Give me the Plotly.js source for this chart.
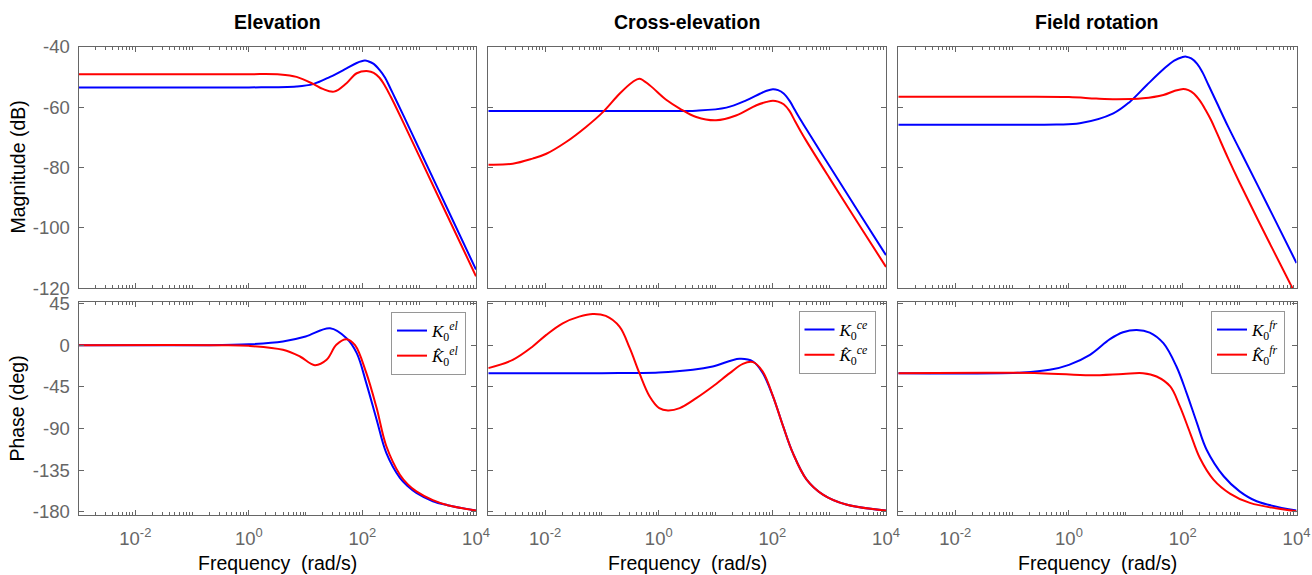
<!DOCTYPE html>
<html>
<head>
<meta charset="utf-8">
<script src="https://cdn.plot.ly/plotly-3.0.1.min.js"></script>
<style>html,body{margin:0;padding:0;background:#fff;}#chart{width:1312px;height:575px;}</style>
</head>
<body>
<div id="chart"></div>
<script>
// ---------------- data (frequency in rad/s) ----------------
const panelTitles = ["Elevation", "Cross-elevation", "Field rotation"];
const legendTags = ["el", "ce", "fr"];
const xTickVals = [0.01, 1, 100, 10000];
const xTickText = ["10<sup>-2</sup>", "10<sup>0</sup>", "10<sup>2</sup>", "10<sup>4</sup>"];
const magTickVals = [-40, -60, -80, -100, -120];
const phaseTickVals = [45, 0, -45, -90, -135, -180];

// Elevation magnitude
const elMagK_w    = [0.001, 0.1, 1, 6.92, 13.5, 26.9, 52.5, 79.4, 110, 126, 158, 200, 251, 316, 398, 631, 1000, 3162, 10000];
const elMagK      = [-53.4, -53.4, -53.4, -53.1, -52.3, -49.9, -47.1, -45.3, -44.5, -44.7, -45.6, -47.6, -50.2, -54, -57.9, -65.8, -73.8, -93.8, -113.8];
const elMagKh_w   = [0.001, 0.1, 1, 3.55, 6.92, 13.8, 20, 31.6, 52.5, 79.4, 126, 158, 200, 251, 316, 398, 631, 1000, 3162, 10000];
const elMagKh     = [-49.0, -49.0, -49.0, -49.1, -49.9, -52.3, -53.9, -54.8, -52, -48.7, -48, -48.6, -50.2, -53, -56.5, -60.3, -68.2, -76.2, -96.1, -116];
// Elevation phase
const elPhK_w     = [0.001, 0.138, 1, 3.98, 10, 26.9, 52.5, 79.4, 117, 178, 263, 457, 631, 891, 1738, 3162, 10000];
const elPhK       = [0, 0, 1, 4, 9.4, 18.3, 7.5, -8.6, -41, -80.6, -116.5, -143.5, -152.5, -159.7, -168.7, -173, -178.8];
const elPhKh_w    = [0.001, 0.3, 1, 3.98, 7.94, 14.5, 23.4, 34.7, 52.5, 74.1, 117, 178, 263, 457, 631, 891, 1738, 3162, 10000];
const elPhKh      = [0, 0, -0.7, -5, -12.2, -21.6, -15.8, 0.4, 6.5, 0, -30, -68, -109, -140, -150.5, -158, -167.6, -173, -178.8];

// Cross-elevation magnitude
const ceMagK_w    = [0.001, 0.1, 1, 4.57, 15.5, 34.7, 60.3, 79.4, 102, 126, 158, 200, 251, 316, 398, 1000, 3162, 10000];
const ceMagK      = [-61.2, -61.2, -61.2, -61.1, -60.1, -57.7, -55.5, -54.5, -54, -54.3, -55.4, -57.8, -61.0, -64.2, -67.3, -79.3, -94.2, -109];
const ceMagKh_w   = [0.001, 0.00269, 0.00603, 0.0105, 0.0234, 0.0525, 0.105, 0.204, 0.347, 0.457, 0.692, 1.35, 2.34, 4.57, 10.2, 22.9, 52.5, 79.4, 102, 126, 158, 200, 251, 316, 398, 1000, 3162, 10000];
const ceMagKh     = [-79, -78.7, -77, -75.4, -71.5, -66.5, -61.5, -55.5, -51.6, -50.5, -52.7, -57.5, -60.4, -63.2, -64.3, -62.7, -59.3, -58.2, -57.8, -58.1, -59.0, -61.2, -64.6, -68, -71.2, -83.3, -98.2, -112.9];
// Cross-elevation phase
const cePhK_w     = [0.001, 0.1, 1, 3.98, 8.91, 26.3, 45.7, 67.6, 102, 155, 229, 398, 776, 1995, 10000];
const cePhK       = [-30.2, -30.2, -29.5, -26.6, -23, -14.7, -17.6, -30, -55, -87.8, -116.5, -145, -161.5, -172.3, -178.8];
const cePhKh_w    = [0.001, 0.00269, 0.00603, 0.0105, 0.0204, 0.0398, 0.0692, 0.117, 0.204, 0.309, 0.457, 0.692, 1.02, 1.45, 2.34, 4.57, 8.91, 17.8, 30.2, 45.7, 67.6, 102, 155, 229, 398, 776, 1995, 10000];
const cePhKh      = [-24.8, -15.8, -1.4, 11.2, 23.7, 30.9, 33.8, 31.7, 20.1, -3.2, -30.2, -55.4, -68, -70.5, -68, -57.2, -44.6, -30.2, -20.1, -18.3, -28.4, -54.7, -87.8, -116.5, -145, -161.5, -172.3, -178.8];

// Field rotation magnitude
const frMagK_w    = [0.001, 0.1, 0.603, 1.55, 6.03, 11.7, 23.4, 45.7, 70.8, 100, 115, 141, 178, 224, 282, 398, 631, 1000, 3162, 10000];
const frMagK      = [-65.8, -65.8, -65.7, -65.3, -62, -58.2, -52.6, -47.4, -44.5, -43.3, -43.2, -43.8, -45.5, -48.5, -52.5, -58.5, -66.5, -74, -92.7, -111.6];
const frMagKh_w   = [0.001, 0.1, 1, 3.02, 6.92, 20, 45.7, 70.8, 102, 126, 158, 200, 251, 316, 398, 631, 1000, 3162, 10000];
const frMagKh     = [-56.5, -56.5, -56.6, -57.1, -57.3, -57.0, -55.9, -54.6, -53.9, -54.3, -55.5, -57.8, -60.8, -64.3, -68.5, -77, -85, -104, -122.6];
// Field rotation phase
const frPhK_w     = [0.001, 0.155, 0.457, 1, 2.34, 5.25, 8.91, 15.5, 26.3, 45.7, 77.6, 117, 178, 263, 525, 1000, 1995, 10000];
const frPhK       = [-30.2, -29.5, -26.6, -21.2, -10.4, 6.5, 14, 16.5, 13.7, 2.2, -23, -51.8, -84.2, -113, -141.7, -158, -168.7, -178.8];
const frPhKh_w    = [0.001, 0.3, 2.34, 8.91, 20, 34.7, 60.3, 89.1, 135, 200, 347, 676, 1514, 10000];
const frPhKh      = [-30.2, -30.2, -32.5, -31, -30.2, -33.8, -44.6, -66.2, -95, -122, -145.3, -160.4, -170.5, -179.5];

// ---------------- figure ----------------
const BLUE = "rgb(0,0,255)", RED = "rgb(255,0,0)";
const AX = "rgb(102,102,102)";
const W = 1312, H = 575;
const px = (v) => v / W, py = (v) => 1 - v / H;

const xDomains = [[px(78.5), px(476)], [px(488.3), px(886)], [px(898.3), px(1296.5)]];
const yTop = [py(288.3), py(47)];
const yBot = [py(515), py(302.3)];

function kName(tag, hat) {
  return (hat ? "<i>K&#770;</i>" : "<i>K</i>") + "<sub>0</sub><sup><i>" + tag + "</i></sup>";
}
function tr(w, v, color, xa, ya, name, legend, show) {
  return { x: w, y: v, type: "scatter", mode: "lines", xaxis: xa, yaxis: ya,
    line: { color: color, width: 2, shape: "spline", smoothing: 1 },
    name: name, legend: legend, showlegend: show, hoverinfo: "skip" };
}

const sets = [
  [elMagK_w, elMagK, elMagKh_w, elMagKh, elPhK_w, elPhK, elPhKh_w, elPhKh],
  [ceMagK_w, ceMagK, ceMagKh_w, ceMagKh, cePhK_w, cePhK, cePhKh_w, cePhKh],
  [frMagK_w, frMagK, frMagKh_w, frMagKh, frPhK_w, frPhK, frPhKh_w, frPhKh]
];

// minor tick positions (2..9 of every decade plus the unlabeled decades)
const minorVals = [];
for (let e = -3; e < 4; e++) {
  for (let m = 1; m <= 9; m++) {
    const v = m * Math.pow(10, e);
    if (m === 1 && xTickVals.indexOf(v) >= 0) continue;
    minorVals.push(v);
  }
}

const traces = [];
const layout = {
  width: W, height: H, margin: { l: 0, r: 0, t: 0, b: 0 },
  paper_bgcolor: "#fff", plot_bgcolor: "#fff",
  font: { family: "Liberation Sans, Arial, sans-serif", color: AX, size: 18.5 },
  annotations: [], showlegend: true
};

function baseX(i, showLabels, anchor) {
  return {
    type: "log", domain: xDomains[i], range: [-3, 4], anchor: anchor,
    showline: true, linecolor: AX, linewidth: 1, mirror: "allticks",
    ticks: "inside", ticklen: 5, tickcolor: AX, tickwidth: 1,
    tickmode: "array", tickvals: xTickVals, ticktext: xTickText,
    showticklabels: showLabels, ticklabelstandoff: 7,
    tickfont: { size: 18.5, color: AX },
    minor: { tickmode: "array", tickvals: minorVals, ticks: "inside", ticklen: 3, tickcolor: AX, tickwidth: 1, showgrid: false },
    showgrid: false, zeroline: false, fixedrange: true
  };
}
function baseY(dom, range, vals, showLabels, anchor) {
  return {
    domain: dom, range: range, anchor: anchor,
    showline: true, linecolor: AX, linewidth: 1, mirror: "allticks",
    ticks: "inside", ticklen: 5, tickcolor: AX, tickwidth: 1,
    tickmode: "array", tickvals: vals, ticktext: vals.map(String),
    showticklabels: showLabels, ticklabelstandoff: 4,
    tickfont: { size: 18.5, color: AX },
    showgrid: false, zeroline: false, fixedrange: true
  };
}

const legendBoxes = [
  { right: 466, top: 312 },
  { right: 875.5, top: 311 },
  { right: 1285, top: 311 }
];

for (let i = 0; i < 3; i++) {
  const ti = i * 2 + 1, bi = i * 2 + 2;
  const xT = "x" + ti, yT = "y" + ti, xB = "x" + bi, yB = "y" + bi;
  const s = sets[i];
  const leg = i === 0 ? "legend" : "legend" + (i + 1);
  traces.push(tr(s[0], s[1], BLUE, xT, yT, kName(legendTags[i], false), leg, false));
  traces.push(tr(s[2], s[3], RED, xT, yT, kName(legendTags[i], true), leg, false));
  traces.push(tr(s[4], s[5], BLUE, xB, yB, kName(legendTags[i], false), leg, true));
  traces.push(tr(s[6], s[7], RED, xB, yB, kName(legendTags[i], true), leg, true));

  layout["xaxis" + ti] = baseX(i, false, yT);
  layout["yaxis" + ti] = baseY(yTop, [-120, -40], magTickVals, i === 0, xT);
  layout["xaxis" + bi] = baseX(i, true, yB);
  layout["yaxis" + bi] = baseY(yBot, [-183.6, 46.4], phaseTickVals, i === 0, xB);

  layout[leg] = {
    x: px(legendBoxes[i].right), y: py(legendBoxes[i].top), xanchor: "right", yanchor: "top",
    bgcolor: "#fff", bordercolor: "rgb(150,150,150)", borderwidth: 1,
    font: { family: "Liberation Serif, Times New Roman, serif", size: 17, color: "#000" },
    tracegroupgap: 0, itemwidth: 30
  };

  const cx = (xDomains[i][0] + xDomains[i][1]) / 2;
  layout.annotations.push({
    text: "<b>" + panelTitles[i] + "</b>", xref: "paper", yref: "paper",
    x: cx, y: py(22), xanchor: "center", yanchor: "middle", showarrow: false,
    font: { size: 19.5, color: "#000" }
  });
  layout.annotations.push({
    text: "Frequency\u00a0 (rad/s)", xref: "paper", yref: "paper",
    x: cx, y: py(563), xanchor: "center", yanchor: "middle", showarrow: false,
    font: { size: 19.5, color: "#000" }
  });
}
layout.annotations.push({
  text: "Magnitude (dB)", xref: "paper", yref: "paper", x: px(17), y: py(167.5),
  xanchor: "center", yanchor: "middle", textangle: -90, showarrow: false,
  font: { size: 19.5, color: "#000" }
});
layout.annotations.push({
  text: "Phase (deg)", xref: "paper", yref: "paper", x: px(17), y: py(408.6),
  xanchor: "center", yanchor: "middle", textangle: -90, showarrow: false,
  font: { size: 19.5, color: "#000" }
});

Plotly.newPlot("chart", traces, layout, { staticPlot: true, displayModeBar: false });
</script>
</body>
</html>
